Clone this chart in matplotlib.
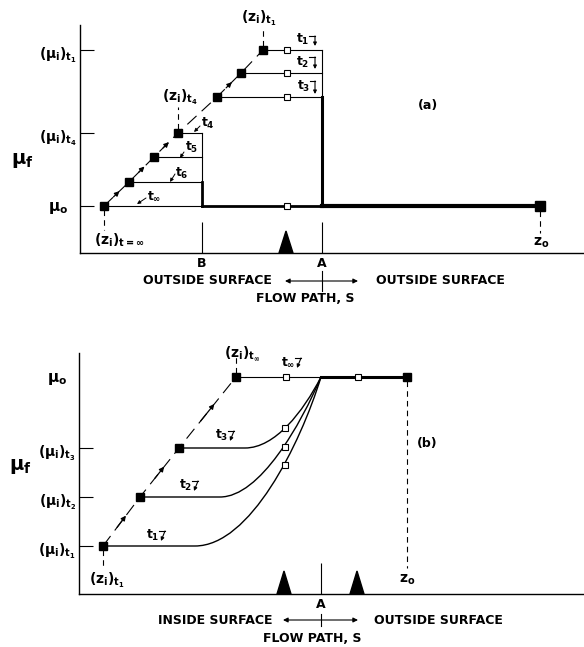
import matplotlib
matplotlib.use("Agg")
import matplotlib.pyplot as plt
from matplotlib.path import Path
from matplotlib.patches import PathPatch, Polygon

plt.rcParams['font.family'] = ['DejaVu Sans']
plt.rcParams['font.weight'] = 'bold'
plt.rcParams['mathtext.fontset'] = 'custom'
plt.rcParams['mathtext.rm'] = 'DejaVu Sans:bold'
plt.rcParams['mathtext.it'] = 'DejaVu Sans:bold'
plt.rcParams['mathtext.bf'] = 'DejaVu Sans:bold'
plt.rcParams['mathtext.sf'] = 'DejaVu Sans:bold'
plt.rcParams['lines.scale_dashes'] = False

W, H = 584, 647

# ---------------- panel (a) : s along flow path, mu_f (arbitrary units) ----------
a_mu0 = 47
a_levels = [47, 120, 203]                       # mu_0, (mu_i)t4, (mu_i)t1
a_level_labels = [r'$\mu_o$', r'$(\mu_i)_{t_4}$', r'$(\mu_i)_{t_1}$']
a_B, a_A, a_z0 = 122, 242, 460
a_low_s = [24, 49, 74, 98]                      # interface z_i for t_inf, t6, t5, t4
a_low_mu = [47, 71, 96, 120]
a_up_s = [137, 161, 183]                        # interface z_i for t3, t2, t1
a_up_mu = [156, 180, 203]
a_open_s = 207
a_triangle_s = 206

# ---------------- panel (b) ----------------
b_mu0 = 217
b_levels = [48, 97, 146]                        # (mu_i)t1, t2, t3
b_level_labels = [r'$(\mu_i)_{t_1}$', r'$(\mu_i)_{t_2}$', r'$(\mu_i)_{t_3}$']
b_front_s = [24, 61, 100]
b_bend_s = [116, 141, 166]
b_ctrl1_s = [171, 181, 196]
b_ctrl2 = [(221, 149), (222, 170), (224, 182)]
b_A, b_zinf, b_z0 = 242, 157, 328
b_open_top = [207, 279]
b_open_curve_s = 206
b_open_curve_mu = [129, 147, 166]
b_triangles = [205, 278]

TXT = dict(fontsize=9, fontweight='bold', clip_on=False)


def setup(ax, xmax, ymax):
    ax.set_xlim(0, xmax)
    ax.set_ylim(0, ymax)
    for side in ['top', 'right']:
        ax.spines[side].set_visible(False)
    for side in ['left', 'bottom']:
        ax.spines[side].set_linewidth(1.0)
    ax.patch.set_alpha(0)


def diag_arrows(ax, xs, ys, skip=()):
    for i in range(len(xs) - 1):
        if i in skip:
            continue
        mx, my = (xs[i] + xs[i + 1]) / 2, (ys[i] + ys[i + 1]) / 2
        dx, dy = xs[i + 1] - xs[i], ys[i + 1] - ys[i]
        ax.annotate('', xy=(mx + dx * 0.12, my + dy * 0.12), xytext=(mx - dx * 0.12, my - dy * 0.12),
                    arrowprops=dict(arrowstyle='-|>', color='k', lw=0.9, mutation_scale=7,
                                    shrinkA=0, shrinkB=0))


def bent_arrow(ax, pts):
    ax.plot([p[0] for p in pts[:-1]], [p[1] for p in pts[:-1]], color='k', lw=0.8, clip_on=False)
    ax.annotate('', xy=pts[-1], xytext=pts[-2],
                arrowprops=dict(arrowstyle='-|>', color='k', lw=0.8, mutation_scale=5,
                                shrinkA=0, shrinkB=0), annotation_clip=False)


def small_arrow(ax, start, end):
    ax.annotate('', xy=end, xytext=start,
                arrowprops=dict(arrowstyle='-|>', color='k', lw=0.7, mutation_scale=5,
                                shrinkA=0, shrinkB=0), annotation_clip=False)


def vdash(ax, x, y0, y1):
    ax.plot([x, x], [y0, y1], color='k', lw=0.8, dashes=(4, 3), clip_on=False)


def flow_axis(ax, y_txt, y_flow, left_txt, left_x, right_x, A, arr0, arr1, ytick0, ytick1, flow_x):
    ax.text(left_x, y_txt, left_txt, ha='center', va='center', **TXT)
    ax.text(right_x, y_txt, 'OUTSIDE SURFACE', ha='center', va='center', **TXT)
    ax.text(flow_x, y_flow, 'FLOW PATH, S', ha='center', va='center', **TXT)
    ax.annotate('', xy=(arr0, y_txt), xytext=(arr1, y_txt),
                arrowprops=dict(arrowstyle='<|-|>', color='k', lw=0.8, mutation_scale=7,
                                shrinkA=0, shrinkB=0), annotation_clip=False)
    ax.plot([A, A], [ytick0, ytick1], color='k', lw=0.8, clip_on=False)


fig = plt.figure(figsize=(W / 100, H / 100), dpi=100)

# =============== (a) ===============
ax = fig.add_axes([80 / W, (H - 253) / H, 504 / W, 228 / H])
setup(ax, 504, 228)
ax.set_yticks(a_levels)
ax.set_yticklabels([])
ax.tick_params(axis='y', direction='in', length=10, width=0.8)
ax.set_xticks([a_B, a_A])
ax.set_xticklabels(['B', 'A'])
ax.tick_params(axis='x', direction='in', length=22, width=0.8, pad=3, labelsize=9)

# lower family of profiles (t4 ... t_inf)
for s, mu in zip(a_low_s, a_low_mu):
    ax.plot([s, a_B], [mu, mu], color='k', lw=0.8)
ax.plot([a_B, a_B], [a_low_mu[1], a_low_mu[-1]], color='k', lw=0.8)
ax.plot([a_B, a_B], [a_mu0, a_low_mu[1]], color='k', lw=2.0)
# upper family (t1 ... t3)
for s, mu in zip(a_up_s, a_up_mu):
    ax.plot([s, a_A], [mu, mu], color='k', lw=0.8)
    ax.plot(a_open_s, mu, 's', ms=5, mfc='white', mec='k', mew=0.8, zorder=6)
ax.plot([a_A, a_A], [a_up_mu[0], a_up_mu[-1]], color='k', lw=0.8)
ax.plot([a_A, a_A], [a_mu0, a_up_mu[0]], color='k', lw=2.2)
ax.plot([a_B, a_A], [a_mu0, a_mu0], color='k', lw=2.0)
ax.plot([a_A, a_z0], [a_mu0, a_mu0], color='k', lw=3.0)
ax.plot(a_open_s, a_mu0, 's', ms=5, mfc='white', mec='k', mew=0.8, zorder=6)
ax.plot(a_z0, a_mu0, 's', color='k', ms=7, zorder=6)

diag_s = a_low_s + a_up_s
diag_mu = a_low_mu + a_up_mu
ax.plot(diag_s, diag_mu, color='k', lw=0.8, dashes=(9, 5))
diag_arrows(ax, diag_s, diag_mu, skip=(3, 5))
ax.plot(diag_s, diag_mu, 's', color='k', ms=5.5, lw=0, zorder=6)

ax.add_patch(Polygon([(a_triangle_s - 7, 0), (a_triangle_s, 22), (a_triangle_s + 7, 0)],
                     closed=True, color='k', clip_on=False))

vdash(ax, a_up_s[-1], a_up_mu[-1] + 4, 223)
vdash(ax, a_low_s[-1], a_low_mu[-1] + 4, 146)
vdash(ax, a_low_s[0], a_mu0 - 4, 23)
vdash(ax, a_z0, a_mu0 - 5, 20)

for lv, lab in zip(a_levels, a_level_labels):
    if lab == r'$\mu_o$':
        ax.text(-22, lv - 2, lab, ha='center', va='center', fontsize=11, clip_on=False)
    else:
        ax.text(-3, lv - 5, lab, ha='right', va='center', fontsize=10, clip_on=False)
ax.text(-58, 93, r'$\mu_f$', ha='center', va='center', fontsize=14, clip_on=False)
ax.text(179, 235, r'$(z_i)_{t_1}$', ha='center', va='center', fontsize=10, clip_on=False)
ax.text(100, 156, r'$(z_i)_{t_4}$', ha='center', va='center', fontsize=10, clip_on=False)
ax.text(39, 13, r'$(z_i)_{t=\infty}$', ha='center', va='center', fontsize=10, clip_on=False)
ax.text(461, 10, r'$z_o$', ha='center', va='center', fontsize=10, clip_on=False)
ax.text(348, 148, '(a)', ha='center', va='center', **TXT)

# time labels of the upper family
ax.text(223, 214, r'$t_1$', ha='center', va='center', fontsize=9)
bent_arrow(ax, [(229, 217), (235, 217), (235, 207)])
ax.text(223, 191, r'$t_2$', ha='center', va='center', fontsize=9)
bent_arrow(ax, [(229, 196), (235, 196), (235, 184)])
ax.text(224, 167, r'$t_3$', ha='center', va='center', fontsize=9)
bent_arrow(ax, [(230, 172), (235, 172), (235, 159)])
# time labels of the lower family
ax.text(128, 130, r'$t_4$', ha='center', va='center', fontsize=9)
small_arrow(ax, (120, 127), (114, 121))
ax.text(112, 106, r'$t_5$', ha='center', va='center', fontsize=9)
small_arrow(ax, (104, 101), (100, 95))
ax.text(102, 80, r'$t_6$', ha='center', va='center', fontsize=9)
small_arrow(ax, (95, 79), (90, 71))
ax.text(74, 57, r'$t_\infty$', ha='center', va='center', fontsize=9)
small_arrow(ax, (66, 55), (57, 49))

flow_axis(ax, -28, -45, 'OUTSIDE SURFACE', 127, 360, a_A, 205, 278, -18, -38, 225)

# =============== (b) ===============
bx = fig.add_axes([79 / W, (H - 594) / H, 505 / W, 241 / H])
setup(bx, 505, 241)
bx.set_yticks(b_levels)
bx.set_yticklabels([])
bx.tick_params(axis='y', direction='in', length=10, width=0.8)
bx.set_xticks([b_A])
bx.set_xticklabels(['A'])
bx.tick_params(axis='x', direction='in', length=22, width=0.8, pad=3, labelsize=9)

for mu, s0, s1, c1, c2 in zip(b_levels, b_front_s, b_bend_s, b_ctrl1_s, b_ctrl2):
    verts = [(s0, mu), (s1, mu), (c1, mu), c2, (b_A, b_mu0)]
    codes = [Path.MOVETO, Path.LINETO, Path.CURVE4, Path.CURVE4, Path.CURVE4]
    bx.add_patch(PathPatch(Path(verts, codes), fill=False, lw=1.0, color='k'))
bx.plot([b_open_curve_s] * 3, b_open_curve_mu, 's', ms=5, mfc='white', mec='k', mew=0.8, lw=0, zorder=6)

bx.plot([b_zinf, b_A], [b_mu0, b_mu0], color='k', lw=0.8)
bx.plot([b_A, b_z0], [b_mu0, b_mu0], color='k', lw=2.2)
bx.plot(b_open_top, [b_mu0] * 2, 's', ms=5, mfc='white', mec='k', mew=0.8, lw=0, zorder=6)

bd_s = b_front_s + [b_zinf]
bd_mu = b_levels + [b_mu0]
bx.plot(bd_s, bd_mu, color='k', lw=0.8, dashes=(9, 5))
diag_arrows(bx, bd_s, bd_mu)
bx.plot(bd_s + [b_z0], bd_mu + [b_mu0], 's', color='k', ms=5.5, lw=0, zorder=6)

for tri in b_triangles:
    bx.add_patch(Polygon([(tri - 7, 0), (tri, 23), (tri + 7, 0)], closed=True, color='k', clip_on=False))

vdash(bx, b_zinf, b_mu0 + 4, 239)
vdash(bx, b_front_s[0], b_levels[0] - 4, 26)
vdash(bx, b_z0, b_mu0 - 4, 26)

for lv, lab in zip(b_levels, b_level_labels):
    bx.text(-3, lv - 5, lab, ha='right', va='center', fontsize=10, clip_on=False)
bx.text(-22, b_mu0 - 2, r'$\mu_o$', ha='center', va='center', fontsize=11, clip_on=False)
bx.text(-59, 127, r'$\mu_f$', ha='center', va='center', fontsize=14, clip_on=False)
bx.text(163, 240, r'$(z_i)_{t_\infty}$', ha='center', va='center', fontsize=10, clip_on=False)
bx.text(28, 14, r'$(z_i)_{t_1}$', ha='center', va='center', fontsize=10, clip_on=False)
bx.text(328, 14, r'$z_o$', ha='center', va='center', fontsize=10, clip_on=False)
bx.text(348, 150, '(b)', ha='center', va='center', **TXT)

bx.text(74, 59, r'$t_1$', ha='center', va='center', fontsize=9)
bent_arrow(bx, [(80, 63), (86, 63), (82, 53)])
bx.text(107, 109, r'$t_2$', ha='center', va='center', fontsize=9)
bent_arrow(bx, [(113, 113), (119, 113), (115, 103)])
bx.text(143, 159, r'$t_3$', ha='center', va='center', fontsize=9)
bent_arrow(bx, [(149, 163), (155, 163), (151, 153)])
bx.text(209, 232, r'$t_\infty$', ha='center', va='center', fontsize=9)
bent_arrow(bx, [(216, 236), (222, 236), (218, 226)])

flow_axis(bx, -26, -44, 'INSIDE SURFACE', 136, 359, b_A, 204, 279, -20, -32, 233)

fig.savefig('out.png', dpi=100)
